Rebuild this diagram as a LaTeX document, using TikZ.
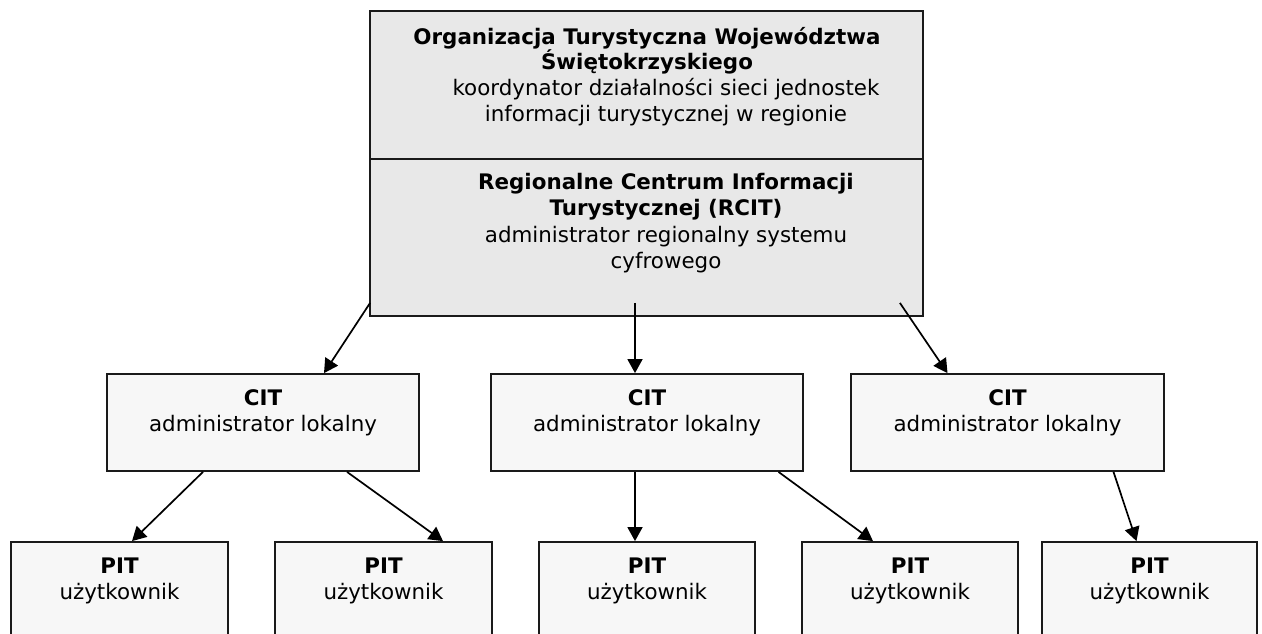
\documentclass[tikz,border=0pt]{standalone}
\usepackage{fontspec}
\setmainfont{DejaVu Sans}
\usetikzlibrary{arrows.meta,calc}
\definecolor{topfill}{HTML}{E8E8E8}
\definecolor{boxfill}{HTML}{F7F7F7}
\definecolor{edge}{HTML}{1A1A1A}
\begin{document}
\begin{tikzpicture}[x=1pt,y=-1pt,
  box/.style={draw=edge, line width=1.8pt, fill=boxfill, inner sep=0pt, rectangle},
  topbox/.style={box, fill=topfill},
  txt/.style={align=center, inner sep=0pt, font=\fontsize{21.4pt}{25.5pt}\selectfont},
  conn/.style={draw=black, line width=1.7pt, -{Triangle[length=14pt,width=15pt]}}]
\clip (0,0) rectangle (1262,634);
\fill[white] (0,0) rectangle (1262,634);
% boxes
\node[topbox, minimum width=553pt, minimum height=148pt] (otws) at (646.5,85) {};
\node[topbox, minimum width=553pt, minimum height=157pt] (rcit) at (646.5,237.5) {};
\node[box, minimum width=312pt, minimum height=97pt] (cit1) at (263,422.5) {};
\node[box, minimum width=312pt, minimum height=97pt] (cit2) at (647,422.5) {};
\node[box, minimum width=313pt, minimum height=97pt] (cit3) at (1007.5,422.5) {};
\node[box, minimum width=217pt, minimum height=140pt] (pit1) at (119.5,612) {};
\node[box, minimum width=217pt, minimum height=140pt] (pit2) at (383.5,612) {};
\node[box, minimum width=216pt, minimum height=140pt] (pit3) at (647,612) {};
\node[box, minimum width=216pt, minimum height=140pt] (pit4) at (910,612) {};
\node[box, minimum width=215pt, minimum height=140pt] (pit5) at (1149.5,612) {};
% texts
\node[txt] (t-otws) at (647,51) {\textbf{Organizacja Turystyczna Województwa}\\\textbf{Świętokrzyskiego}};
\node[txt] (t-otws2) at (666,102) {koordynator działalności sieci jednostek\\informacji turystycznej w regionie};
\node[txt, font=\fontsize{21.4pt}{26.3pt}\selectfont] (t-rcit) at (666,223) {\textbf{Regionalne Centrum Informacji}\\\textbf{Turystycznej (RCIT)}\\administrator regionalny systemu\\cyfrowego};
\node[txt] (t-cit1) at (263,413) {\textbf{CIT}\\administrator lokalny};
\node[txt] (t-cit2) at (647,413) {\textbf{CIT}\\administrator lokalny};
\node[txt] (t-cit3) at (1007.5,413) {\textbf{CIT}\\administrator lokalny};
\node[txt] (t-pit1) at (119.5,581) {\textbf{PIT}\\użytkownik};
\node[txt] (t-pit2) at (383.5,581) {\textbf{PIT}\\użytkownik};
\node[txt] (t-pit3) at (647,581) {\textbf{PIT}\\użytkownik};
\node[txt] (t-pit4) at (910,581) {\textbf{PIT}\\użytkownik};
\node[txt] (t-pit5) at (1149.5,581) {\textbf{PIT}\\użytkownik};
% connectors
\draw[conn] ($(rcit.south west)+(1,-14)$) -- ($(cit1.north)+(61,0)$);
\draw[conn] ($(rcit.south)+(-11.5,-14)$) -- ($(cit2.north)+(-12,0)$);
\draw[conn] ($(rcit.south east)+(-24,-14)$) -- ($(cit3.north)+(-60,0)$);
\draw[conn] ($(cit1.south)+(-60,0)$) -- ($(pit1.north)+(12.5,0)$);
\draw[conn] ($(cit1.south)+(84,0)$) -- ($(pit2.north)+(59.5,0)$);
\draw[conn] ($(cit2.south)+(-12,0)$) -- ($(pit3.north)+(-12,0)$);
\draw[conn] ($(cit2.south)+(131.5,0)$) -- ($(pit4.north)+(-37,0)$);
\draw[conn] ($(cit3.south)+(106,0)$) -- ($(pit5.north)+(-13,0)$);
\end{tikzpicture}
\end{document}
